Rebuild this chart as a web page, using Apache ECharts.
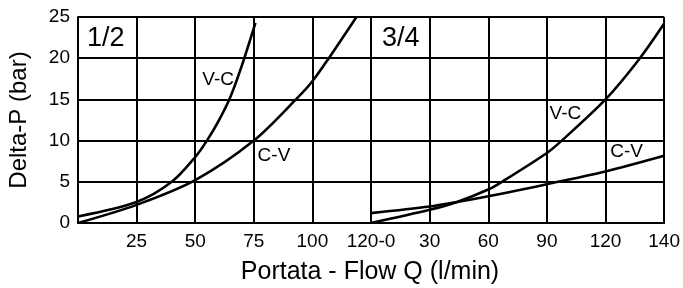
<!DOCTYPE html>
<html>
<head>
<meta charset="utf-8">
<script src="https://cdn.jsdelivr.net/npm/echarts@6/dist/echarts.min.js"></script>
<style>
html, body { margin: 0; padding: 0; background: #fff; }
#main { width: 683px; height: 288px; }
</style>
</head>
<body>
<div id="main"></div>
<script>
// left panel (1/2), flow 0-125 on the axis
var leftVC = [[0, 0.8], [25, 2.55], [40, 5], [50, 8.0], [55, 10], [60, 12.4], [65, 15.3], [70, 19.2], [75.7, 24.3]];
var leftCV = [[0, 0], [25, 2.2], [50, 5.2], [75, 10], [94, 15.3], [100, 17.2], [107, 20], [118.8, 25]];
// right panel (3/4), axis 0-150, last tick drawn as "140"
var rightVC = [[0, 0], [30, 1.6], [44, 2.55], [60, 4.06], [67, 5], [90, 8.5], [97.6, 10], [120, 15], [137.6, 20], [150, 24.2]];
var rightCV = [[0, 1.2], [30, 2.0], [44, 2.55], [60, 3.25], [76, 4.0], [90, 4.7], [120, 6.25], [150, 8.15]];

var leftTicks = { 0: '', 25: '25', 50: '50', 75: '75', 100: '100', 125: '120-0' };
var rightTicks = { 0: '', 30: '30', 60: '60', 90: '90', 120: '120', 150: '140' };

var curveLabels = [
	{ name: 'V-C', coord: [59.8, 17.4] },
	{ name: 'C-V', coord: [83.6, 8.1] },
	{ name: 'V-C', coord: [99.5, 13.2] },
	{ name: 'C-V', coord: [130.8, 8.7] }
];

var font = "'Liberation Sans', Arial, sans-serif";
var black = '#000';

var myChart = echarts.init(document.getElementById('main'));

function xAxisOf(idx, max, step, ticks) {
	return {
		type : 'value',
		gridIndex : idx,
		min : 0,
		max : max,
		interval : step,
		axisLine : { show : true, lineStyle : { color : black, width : 2 } },
		axisTick : { show : false },
		splitLine : { show : true, lineStyle : { color : black, width : 2 } },
		axisLabel : {
			color : black, fontSize : 19, fontFamily : font, margin : 9,
			showMinLabel : true, showMaxLabel : true,
			formatter : function(v) { return ticks[v] !== undefined ? ticks[v] : ''; }
		}
	};
}

function yAxisOf(idx, withLabels) {
	var ax = {
		type : 'value',
		gridIndex : idx,
		min : 0,
		max : 25,
		interval : 5,
		axisLine : { show : true, lineStyle : { color : black, width : 2 } },
		axisTick : { show : false },
		splitLine : { show : true, lineStyle : { color : black, width : 2 } },
		axisLabel : { show : withLabels, color : black, fontSize : 19, fontFamily : font, margin : 8 }
	};
	if (withLabels) {
		ax.name = 'Delta-P (bar)';
		ax.nameLocation = 'middle';
		ax.nameGap = 47;
		ax.nameTextStyle = { color : black, fontSize : 24, fontFamily : font };
	}
	return ax;
}

function curve(data, xi, label) {
	return {
		type : 'line',
		xAxisIndex : xi,
		yAxisIndex : xi,
		data : data,
		smooth : 0.3,
		symbol : 'none',
		silent : true,
		lineStyle : { color : black, width : 2.6 },
		markPoint : {
			symbol : 'circle',
			symbolSize : 1,
			itemStyle : { color : 'rgba(0,0,0,0)' },
			label : { show : true, position : 'inside', color : black, fontSize : 19, fontFamily : font, formatter : label.name },
			data : [{ coord : label.coord }]
		}
	};
}

var option = {
	backgroundColor : '#FFFFFF',
	animation : false,
	grid : [
		{ left : 78, top : 17, width : 293, height : 206 },
		{ left : 371, top : 17, width : 294, height : 206 }
	],
	xAxis : [xAxisOf(0, 125, 25, leftTicks), xAxisOf(1, 150, 30, rightTicks)],
	yAxis : [yAxisOf(0, true), yAxisOf(1, false)],
	series : [
		curve(leftVC, 0, curveLabels[0]),
		curve(leftCV, 0, curveLabels[1]),
		curve(rightVC, 1, curveLabels[2]),
		curve(rightCV, 1, curveLabels[3])
	],
	graphic : [
		{ type : 'text', left : 87, top : 25, style : { text : '1/2', fill : black, font : '27px ' + font } },
		{ type : 'text', left : 382, top : 25, style : { text : '3/4', fill : black, font : '27px ' + font } },
		{ type : 'text', x : 370, y : 272, style : { text : 'Portata - Flow Q (l/min)', fill : black, font : '25px ' + font, textAlign : 'center', textVerticalAlign : 'middle' } }
	]
};

myChart.setOption(option);
</script>
</body>
</html>
